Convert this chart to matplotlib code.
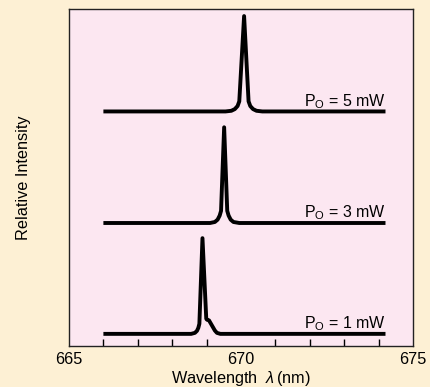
import matplotlib
matplotlib.use("Agg")
import matplotlib.pyplot as plt

plt.rcParams['font.family'] = ['Liberation Sans', 'DejaVu Sans']
plt.rcParams['mathtext.fontset'] = 'custom'
plt.rcParams['mathtext.rm'] = 'Liberation Sans'
plt.rcParams['mathtext.it'] = 'Liberation Sans:italic'

# Data (wavelength in nm, relative intensity above baseline)
wl_5mw = [666.0, 669.55, 669.72, 669.82, 669.90, 669.95, 670.09, 670.22, 670.27, 670.35, 670.45, 670.62, 674.2]
int_5mw = [0.0, 0.0, 0.002, 0.007, 0.016, 0.03, 0.283, 0.03, 0.016, 0.007, 0.002, 0.0, 0.0]
wl_3mw = [666.0, 669.10, 669.24, 669.32, 669.38, 669.42, 669.51, 669.60, 669.64, 669.70, 669.78, 669.95, 674.2]
int_3mw = [0.0, 0.0, 0.003, 0.010, 0.022, 0.036, 0.284, 0.036, 0.022, 0.010, 0.003, 0.0, 0.0]
wl_1mw = [666.0, 668.55, 668.66, 668.72, 668.76, 668.79, 668.88, 668.99, 669.01, 669.07, 669.24, 669.30, 669.40, 674.2]
int_1mw = [0.0, 0.0, 0.003, 0.009, 0.018, 0.03, 0.284, 0.045, 0.042, 0.04, 0.01, 0.003, 0.0, 0.0]
baselines = [0.696, 0.365, 0.036]
labels = ['5 mW', '3 mW', '1 mW']

x_ticks_major = [665, 670, 675]
x_ticks_minor = [666, 667, 668, 669, 670, 671, 672, 673, 674]

fig = plt.figure(figsize=(4.30, 3.87), dpi=100)
fig.patch.set_facecolor('#FDF0D4')
ax = fig.add_axes([69/430, 1-346/387, (413-69)/430, (346-9)/387])
ax.set_facecolor('#FCE7F1')

series = [(wl_5mw, int_5mw), (wl_3mw, int_3mw), (wl_1mw, int_1mw)]
for (wl, it), base, lab in zip(series, baselines, labels):
    ax.plot(wl, [v + base for v in it], color='black', lw=2.8,
            solid_joinstyle='round', solid_capstyle='butt')
    ax.text(674.2, base + 0.016, r'P$_\mathrm{O}$ = ' + lab, ha='right', va='baseline', fontsize=11.5)

ax.set_xlim(665, 675)
ax.set_ylim(0, 1)
ax.set_xticks(x_ticks_major)
ax.set_xticks(x_ticks_minor, minor=True)
ax.tick_params(axis='x', which='major', length=0, labelsize=11.7, pad=4)
ax.tick_params(axis='x', which='minor', direction='in', length=5, width=1)
ax.set_yticks([])
for s in ax.spines.values():
    s.set_linewidth(1.0)
    s.set_color('#222222')

ax.set_xlabel(r'Wavelength  $\lambda\,$(nm)', fontsize=11.7, labelpad=2)
ax.set_ylabel('Relative Intensity', fontsize=11.7, labelpad=27)

fig.savefig('out.png', dpi=100, facecolor=fig.get_facecolor())
